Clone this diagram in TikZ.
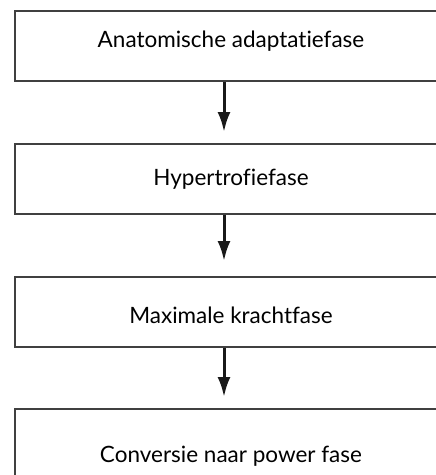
\documentclass[tikz,border=0pt]{standalone}
\usepackage{fontspec}
\setmainfont{Lato}[Ligatures={NoCommon,NoRequired,NoContextual}]
\usetikzlibrary{arrows.meta}

\begin{document}
\begin{tikzpicture}[
        x=1pt, y=1pt,
        fase/.style={draw=black!75, line width=2pt, minimum width=432pt, minimum height=70pt,
                     inner sep=0pt, text height=16pt, text depth=4pt,
                     font=\fontsize{22.5}{26}\selectfont},
        pijl/.style={-{Latex[length=20pt, width=13pt]}, line width=3pt, black!90}
    ]
        \useasboundingbox (0,0) rectangle (436,-475);

        % Fasen
        \node[fase, text depth=14pt] (anat) at (231,-46) {Anatomische adaptatiefase};
        \node[fase] (hyper) at (231,-179) {Hypertrofiefase};
        \node[fase, text height=26pt] (max) at (231,-312) {Maximale krachtfase};
        \node[fase, text height=26pt, minimum height=84pt] (power) at (231,-451) {Conversie naar power fase};

        % Pijlen
        \draw[pijl] ([xshift=-7pt]anat.south)  -- ([xshift=-7pt, yshift=11pt]hyper.north);
        \draw[pijl] ([xshift=-7pt]hyper.south) -- ([xshift=-7pt, yshift=15pt]max.north);
        \draw[pijl] ([xshift=-7pt]max.south)   -- ([xshift=-7pt, yshift=11pt]power.north);
    \end{tikzpicture}
\end{document}
